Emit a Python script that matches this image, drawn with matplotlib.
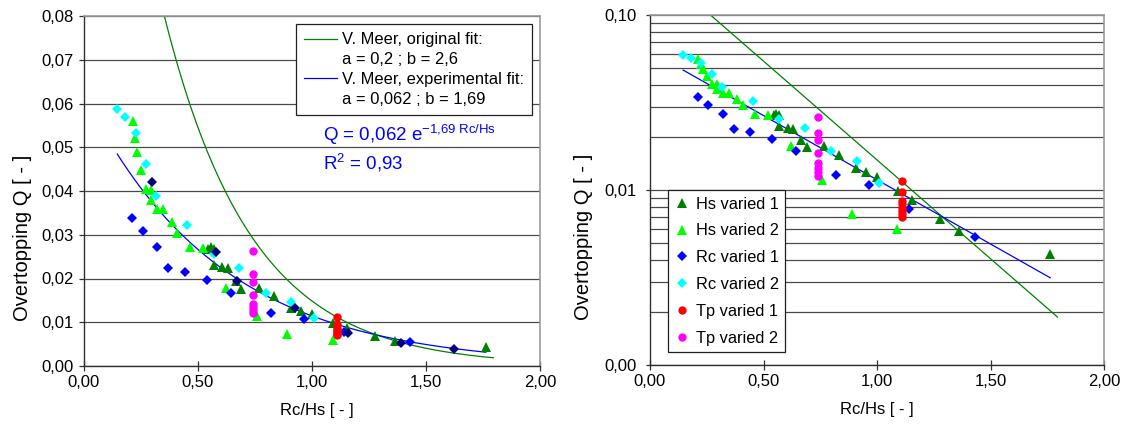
import numpy as np
import matplotlib
matplotlib.use("Agg")
import matplotlib.pyplot as plt
from matplotlib.lines import Line2D
from matplotlib.ticker import FixedLocator, FuncFormatter, LogLocator, NullFormatter, MultipleLocator

plt.rcParams["font.family"] = ["Liberation Sans", "DejaVu Sans"]
plt.rcParams["mathtext.fontset"] = "custom"
plt.rcParams["mathtext.rm"] = "Liberation Sans"
plt.rcParams["mathtext.it"] = "Liberation Sans:italic"

# ---- measured overtopping per test series (Rc/Hs, Q) ----
hs1_x = [0.545, 0.557, 0.570, 0.570, 0.606, 0.632, 0.667, 0.690, 0.768, 0.834,
         0.908, 0.950, 1.000, 1.092, 1.155, 1.278, 1.362, 1.763]
hs1_q = [0.0268, 0.0272, 0.0268, 0.0232, 0.0227, 0.0223, 0.0194, 0.0176, 0.0179, 0.0159,
         0.0133, 0.0126, 0.0119, 0.0099, 0.0088, 0.0068, 0.0058, 0.0043]

hs2_x = [0.213, 0.225, 0.234, 0.251, 0.272, 0.295, 0.296, 0.320, 0.348, 0.384,
         0.410, 0.464, 0.520, 0.622, 0.759, 0.889, 1.090]
hs2_q = [0.0560, 0.0522, 0.0490, 0.0448, 0.0405, 0.0402, 0.0380, 0.0358, 0.0358, 0.0330,
         0.0304, 0.0272, 0.0270, 0.0178, 0.0114, 0.0073, 0.0060]

rc1_x = [0.210, 0.257, 0.321, 0.368, 0.442, 0.538, 0.645, 0.818, 0.966, 1.140, 1.430]
rc1_q = [0.0338, 0.0308, 0.0272, 0.0223, 0.0215, 0.0196, 0.0168, 0.0122, 0.0107, 0.0078, 0.0054]

rc2_x = [0.146, 0.180, 0.226, 0.273, 0.316, 0.453, 0.568, 0.682, 0.798, 0.910, 1.010]
rc2_q = [0.0588, 0.0569, 0.0532, 0.0462, 0.0389, 0.0323, 0.0255, 0.0225, 0.0166, 0.0147, 0.0110]

tp1_x = [1.11] * 8
tp1_q = [0.0113, 0.0097, 0.0087, 0.0083, 0.0079, 0.0076, 0.0073, 0.0070]

tp2_x = [0.74] * 8
tp2_q = [0.0263, 0.0211, 0.0192, 0.0163, 0.0142, 0.0134, 0.0127, 0.0121]

# points used for the experimental fit (linear chart only)
fit_x = [0.300, 0.578, 0.672, 0.927, 1.158, 1.390, 1.623]
fit_q = [0.0420, 0.0260, 0.0195, 0.0132, 0.0075, 0.0053, 0.0039]

# Van der Meer curves Q = a * exp(-b * Rc/Hs)
orig_a, orig_b = 0.2, 2.6
exp_a, exp_b = 0.062, 1.69
orig_range = (0.146, 1.795)
exp_range = (0.146, 1.763)

x_ticks = [0.0, 0.5, 1.0, 1.5, 2.0]

series = [
    ("Hs varied 1", hs1_x, hs1_q, "^", "#008000", 6.6),
    ("Hs varied 2", hs2_x, hs2_q, "^", "#00ff00", 6.6),
    ("Rc varied 1", rc1_x, rc1_q, "D", "#0000ff", 4.9),
    ("Rc varied 2", rc2_x, rc2_q, "D", "#00ffff", 4.9),
    ("Tp varied 1", tp1_x, tp1_q, "o", "#ff0000", 6.0),
    ("Tp varied 2", tp2_x, tp2_q, "o", "#ff00ff", 6.0),
]

comma = FuncFormatter(lambda v, p: f"{v:.2f}".replace(".", ","))

W, H = 1132, 428
fig = plt.figure(figsize=(W / 100, H / 100), dpi=100)
ax1 = fig.add_axes([84 / W, (H - 366) / H, 456 / W, 350 / H])
ax2 = fig.add_axes([650 / W, (H - 365) / H, 454 / W, 350 / H])

grid_kw = dict(color="#4a4a4a", linewidth=0.9)


def style_axes(ax):
    ax.set_xlim(0, 2)
    ax.xaxis.set_major_locator(FixedLocator(x_ticks))
    ax.xaxis.set_major_formatter(comma)
    ax.tick_params(axis="x", direction="inout", length=6.5, width=0.9,
                   labelsize=12, pad=3, color="#303030")
    ax.tick_params(axis="y", which="major", direction="out", length=3.6, width=0.9,
                   labelsize=12, pad=4, color="#303030")
    for s in ("left", "bottom"):
        ax.spines[s].set_color("#303030")
        ax.spines[s].set_linewidth(1.0)
    for s in ("top", "right"):
        ax.spines[s].set_color("#9a9a9a")
        ax.spines[s].set_linewidth(1.2)
    ax.set_xlabel("Rc/Hs [ - ]", fontsize=12)
    ax.set_ylabel("Overtopping Q [ - ]", fontsize=14.5)
    ax.set_axisbelow(True)


def draw_curves(ax):
    xo = np.linspace(*orig_range, 200)
    xe = np.linspace(*exp_range, 200)
    lo, = ax.plot(xo, orig_a * np.exp(-orig_b * xo), color="#008000", lw=0.9, zorder=2)
    le, = ax.plot(xe, exp_a * np.exp(-exp_b * xe), color="#0000ff", lw=0.9, zorder=2)
    return lo, le


def draw_points(ax):
    handles = []
    for label, xs, qs, mk, col, ms in series:
        h, = ax.plot(xs, qs, linestyle="none", marker=mk, color=col, markersize=ms,
                     markeredgewidth=0, label=label, zorder=3)
        handles.append(h)
    return handles


# ---- linear chart ----
style_axes(ax1)
ax1.set_ylim(0, 0.08)
ax1.yaxis.set_major_locator(MultipleLocator(0.01))
ax1.yaxis.set_major_formatter(comma)
ax1.grid(axis="y", **grid_kw)
lo, le = draw_curves(ax1)
draw_points(ax1)
ax1.plot(fit_x, fit_q, linestyle="none", marker="D", color="#000080", markersize=4.9,
         markeredgewidth=0, zorder=4)
ax1.yaxis.set_label_coords(-0.114, 0.365)
ax1.xaxis.set_label_coords(0.51, -0.105)

blank = Line2D([], [], linestyle="none")
leg1 = ax1.legend([lo, blank, le, blank],
                  ["V. Meer, original fit:", "a = 0,2 ; b = 2,6",
                   "V. Meer, experimental fit:", "a = 0,062 ; b = 1,69"],
                  loc="upper left", bbox_to_anchor=(0.464, 0.977), borderaxespad=0,
                  fontsize=11.9, frameon=True, fancybox=False, framealpha=1,
                  edgecolor="#202020", handlelength=2.0, handletextpad=0.3,
                  labelspacing=0.3, borderpad=0.5)
leg1.get_frame().set_linewidth(0.9)

ax1.text(1.048, 0.0514, "Q = 0,062 e$^{\\mathregular{-1{,}69\\ Rc/Hs}}$",
         color="#0000ff", fontsize=13.5, va="baseline")
ax1.text(1.048, 0.0448, "R$^{\\mathregular{2}}$ = 0,93", color="#0000ff",
         fontsize=13.5, va="baseline")

# ---- logarithmic chart ----
style_axes(ax2)
ax2.set_yscale("log")
ax2.set_ylim(0.001, 0.1)
ax2.yaxis.set_major_locator(FixedLocator([0.001, 0.01, 0.1]))
ax2.yaxis.set_major_formatter(comma)
ax2.yaxis.set_minor_locator(LogLocator(base=10, subs=np.arange(2, 10)))
ax2.yaxis.set_minor_formatter(NullFormatter())
ax2.tick_params(axis="y", which="minor", length=0)
ax2.tick_params(axis="y", which="major", length=3, pad=6.5)
ax2.grid(axis="y", which="both", **grid_kw)
draw_curves(ax2)
pts = draw_points(ax2)
ax2.yaxis.set_label_coords(-0.126, 0.365)
ax2.xaxis.set_label_coords(0.5, -0.105)

leg2 = ax2.legend(handles=pts, loc="upper left", bbox_to_anchor=(0.039, 0.5),
                  borderaxespad=0, fontsize=11.8, frameon=True, fancybox=False,
                  framealpha=1, edgecolor="#202020", handlelength=0.9,
                  handletextpad=0.4, labelspacing=0.72, borderpad=0.4)
leg2.get_frame().set_linewidth(0.9)

fig.savefig("out.png", dpi=100)
